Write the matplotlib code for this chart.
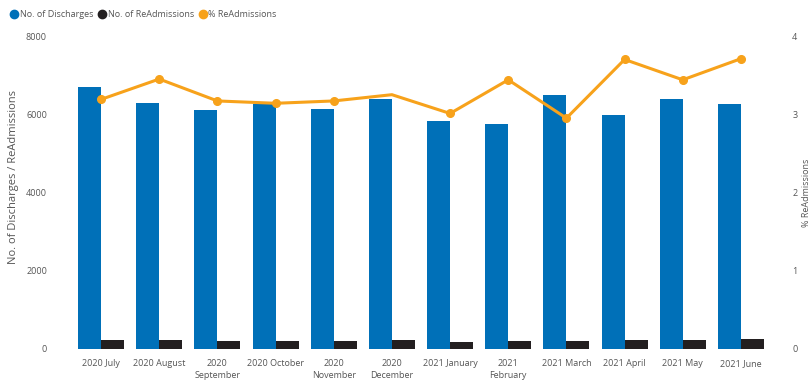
import matplotlib.pyplot as plt
import matplotlib.lines as mlines
import numpy as np

# data
months = ['2020 July', '2020 August', '2020\nSeptember', '2020 October', '2020\nNovember',
          '2020\nDecember', '2021 January', '2021\nFebruary', '2021 March', '2021 April',
          '2021 May', '2021 June']
discharges = [6690, 6280, 6100, 6270, 6130, 6390, 5820, 5750, 6490, 5970, 6390, 6260]
readmissions = [230, 230, 205, 205, 205, 230, 187, 205, 205, 222, 225, 256]
pct_readm = [3.19, 3.45, 3.17, 3.14, 3.17, 3.25, 3.01, 3.44, 2.95, 3.70, 3.44, 3.71]

BLUE = '#0070B8'
DARK = '#231F20'
ORANGE = '#F7A21B'
GREY = '#555555'

plt.rcParams['font.family'] = ['Open Sans', 'DejaVu Sans']

fig = plt.figure(figsize=(8.11, 3.83), dpi=100)
ax = fig.add_axes([72 / 811, 34 / 383, 698 / 811, 313 / 383])
ax2 = ax.twinx()

x = np.arange(len(months))
w = 0.395
ax.bar(x - w / 2, discharges, width=w, color=BLUE, zorder=2)
ax.bar(x + w / 2, readmissions, width=w, color=DARK, zorder=2)

# December point has no marker in the reference
marks = [i for i in range(len(months)) if i != 5]
ax2.plot(x, pct_readm, color=ORANGE, linewidth=2.2, marker='o', markersize=5.5,
         markevery=marks, zorder=3)

ax.set_xlim(-0.5, len(months) - 0.5)
ax.set_ylim(0, 8000)
ax2.set_ylim(0, 4)
ax.set_yticks([0, 2000, 4000, 6000, 8000])
ax2.set_yticks([0, 1, 2, 3, 4])
ax.set_xticks(x)
ax.set_xticklabels(months, fontsize=6.5, color=GREY, linespacing=1.5)

for a in (ax, ax2):
    for s in a.spines.values():
        s.set_visible(False)
    a.tick_params(length=0, labelsize=6.5, labelcolor=GREY)
ax.tick_params(axis='y', pad=18)
ax.tick_params(axis='x', pad=7)
ax2.tick_params(axis='y', pad=16)
ax2.set_zorder(ax.get_zorder() + 1)
ax2.patch.set_visible(False)

ax.set_ylabel('No. of Discharges / ReAdmissions', fontsize=8, color=GREY)
ax.yaxis.set_label_coords(-0.076, 0.55)
ax2.set_ylabel('% ReAdmissions', fontsize=6.5, color=GREY, rotation=90)
ax2.yaxis.set_label_coords(1.046, 0.5)

handles = [
    mlines.Line2D([], [], color=BLUE, marker='o', linestyle='None', markersize=6),
    mlines.Line2D([], [], color=DARK, marker='o', linestyle='None', markersize=6),
    mlines.Line2D([], [], color=ORANGE, marker='o', linestyle='None', markersize=6),
]
fig.legend(handles, ['No. of Discharges', 'No. of ReAdmissions', '% ReAdmissions'],
           loc='upper left', bbox_to_anchor=(0.003, 0.99), ncol=3, frameon=False,
           fontsize=6.5, labelcolor=GREY, handletextpad=0.0, columnspacing=0.4,
           handlelength=1.2, borderaxespad=0.3)

plt.savefig('out.png', dpi=100)
